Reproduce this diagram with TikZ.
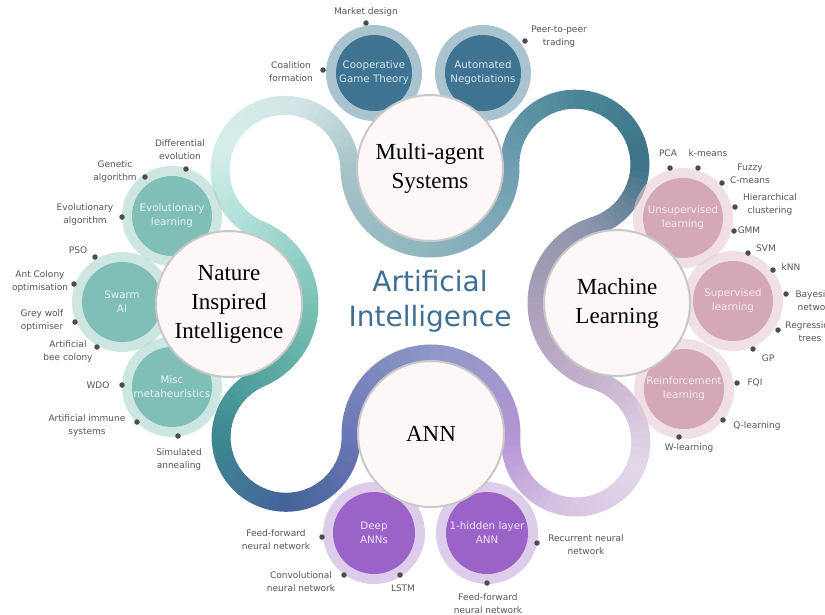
\documentclass[tikz,border=0pt]{standalone}
\usepackage{fontspec}
\setmainfont{DejaVu Sans}
\newfontfamily\titleserif{Liberation Serif}
\usetikzlibrary{positioning}
\definecolor{dotgrey}{RGB}{77,77,77}
\definecolor{lblgrey}{RGB}{85,85,85}
\definecolor{aiblue}{RGB}{63,111,149}
\definecolor{bigfill}{RGB}{253,248,247}
\definecolor{bigline}{RGB}{200,200,200}
% satellite colours
\definecolor{masin}{RGB}{62,116,145}
\definecolor{masring}{RGB}{113,157,175}
\definecolor{mastxt}{RGB}{213,229,238}
\definecolor{natin}{RGB}{127,191,183}
\definecolor{natring}{RGB}{172,213,205}
\definecolor{nattxt}{RGB}{230,244,241}
\definecolor{mlin}{RGB}{212,168,184}
\definecolor{mlring}{RGB}{230,202,212}
\definecolor{mltxt}{RGB}{246,232,238}
\definecolor{annin}{RGB}{155,98,200}
\definecolor{annring}{RGB}{198,172,222}
\definecolor{anntxt}{RGB}{240,230,248}
% colour stops along the band
\definecolor{bda}{HTML}{A6DCD2}
\definecolor{bdb}{HTML}{D5EEEA}
\definecolor{bdc}{HTML}{D3E5E6}
\definecolor{bdd}{HTML}{A6C3C9}
\definecolor{bde}{HTML}{8FB5BF}
\definecolor{bdf}{HTML}{6E9EB1}
\definecolor{bdg}{HTML}{4C8799}
\definecolor{bdh}{HTML}{3C7287}
\definecolor{bdi}{HTML}{8A93AA}
\definecolor{bdj}{HTML}{AB9FBB}
\definecolor{bdk}{HTML}{C6B1CD}
\definecolor{bdl}{HTML}{E4D8EA}
\definecolor{bdm}{HTML}{D6C0E2}
\definecolor{bdn}{HTML}{B595D5}
\definecolor{bdo}{HTML}{8D98C6}
\definecolor{bdp}{HTML}{6B78B5}
\definecolor{bdq}{HTML}{45639A}
\definecolor{bdr}{HTML}{3D8791}
\definecolor{bds}{HTML}{55A59F}
\definecolor{bdt}{HTML}{7BC1B5}
% arc of the band, faded from #5 to #6 in small pieces
\newcommand{\bandarc}[6]{%
  \foreach \k in {0,...,11}{%
    \pgfmathsetmacro\angA{#3+(#4-#3)*\k/12}%
    \pgfmathsetmacro\angB{#3+(#4-#3)*(\k+1.1)/12}%
    \pgfmathtruncatemacro\bandmix{100-100*(\k+0.5)/12}%
    \draw[band,color=#5!\bandmix!#6] (#1) ++(\angA:#2)
      arc[start angle=\angA,end angle=\angB,radius=#2];%
  }}

\begin{document}
\begin{tikzpicture}[x=1pt,y=-1pt,
  band/.style={line width=19pt},
  bigc/.style={circle,draw=bigline,line width=2pt,fill=bigfill,
    minimum size=146pt,inner sep=0pt,align=center,
    font=\titleserif\fontsize{23}{29}\selectfont},
  ring/.style={circle,minimum size=100pt,inner sep=0pt,fill opacity=0.6},
  sat/.style={circle,minimum size=80pt,inner sep=0pt,align=center,
    font=\fontsize{10.3}{14}\selectfont},
  bullet/.style={circle,fill=dotgrey,minimum size=5.5pt,inner sep=0pt},
  lbl/.style={align=center,inner sep=0pt,text=lblgrey,
    font=\fontsize{9}{13}\selectfont}]
\useasboundingbox (0,0) rectangle (825,614);

% centres: four topics and the four loops between them
\coordinate (masp) at (430,168);
\coordinate (mlp) at (617,303);
\coordinate (annp) at (431,434);
\coordinate (natp) at (229,304);
\coordinate (ltl) at (285,170.3);
\coordinate (ltr) at (574.9,164.2);
\coordinate (lbr) at (575.8,442);
\coordinate (lbl) at (286.1,437.3);

% ---- band ----
\bandarc{ltl}{65}{112.7}{200}{bda}{bdb}
\bandarc{ltl}{65}{200}{280}{bdb}{bdc}
\bandarc{ltl}{65}{280}{359.1}{bdc}{bdd}
\bandarc{masp}{80}{179.1}{90}{bdd}{bde}
\bandarc{masp}{80}{90}{-1.5}{bde}{bdf}
\bandarc{ltr}{65}{178.5}{270}{bdf}{bdg}
\bandarc{ltr}{65}{270}{360}{bdg}{bdh}
\bandarc{ltr}{65}{360}{433.1}{bdh}{bdi}
\bandarc{mlp}{80}{253.1}{180}{bdi}{bdj}
\bandarc{mlp}{80}{180}{106.5}{bdj}{bdk}
\bandarc{lbr}{65}{-73.5}{20}{bdk}{bdl}
\bandarc{lbr}{65}{20}{110}{bdl}{bdm}
\bandarc{lbr}{65}{110}{183.2}{bdm}{bdn}
\bandarc{annp}{80}{3.2}{-90}{bdn}{bdo}
\bandarc{annp}{80}{-90}{-181.3}{bdo}{bdp}
\bandarc{lbl}{65}{-1.3}{90}{bdp}{bdq}
\bandarc{lbl}{65}{90}{180}{bdq}{bdr}
\bandarc{lbl}{65}{180}{246.8}{bdr}{bds}
\bandarc{natp}{80}{66.8}{0}{bds}{bdt}
\bandarc{natp}{80}{0}{-67.3}{bdt}{bda}

% ---- satellite rings ----
\node[ring,fill=masring,minimum size=96pt] (cgtr) at (374,73) {};
\node[ring,fill=masring,minimum size=96pt] (negr) at (483,73) {};
\node[ring,fill=natring] (evor) at (172,216) {};
\node[ring,fill=natring] (swar) at (122,302) {};
\node[ring,fill=natring] (misr) at (172,387) {};
\node[ring,fill=mlring] (unsr) at (683,218) {};
\node[ring,fill=mlring] (supr) at (733,301) {};
\node[ring,fill=mlring] (reir) at (684,389) {};
\node[ring,fill=annring,minimum size=102pt] (deepr) at (374,533) {};
\node[ring,fill=annring,minimum size=102pt] (hidr) at (487,533) {};

% ---- satellites ----
\node[sat,fill=masin,text=mastxt,minimum size=76pt] (cgt) at (374,73)
  {Cooperative\\Game Theory};
\node[sat,fill=masin,text=mastxt,minimum size=76pt] (neg) at (483,73)
  {Automated\\Negotiations};
\node[sat,fill=natin,text=nattxt] (evo) at (172,216) {Evolutionary\\learning};
\node[sat,fill=natin,text=nattxt] (swarm) at (122,302) {Swarm\\AI};
\node[sat,fill=natin,text=nattxt] (misc) at (172,387) {Misc\\metaheuristics};
\node[sat,fill=mlin,text=mltxt] (unsup) at (683,218) {Unsupervised\\learning};
\node[sat,fill=mlin,text=mltxt] (sup) at (733,301) {Supervised\\learning};
\node[sat,fill=mlin,text=mltxt] (reinf) at (684,389) {Reinforcement\\learning};
\node[sat,fill=annin,text=anntxt,minimum size=82pt] (deep) at (374,533)
  {Deep\\ANNs};
\node[sat,fill=annin,text=anntxt,minimum size=82pt] (hid) at (487,533)
  {1-hidden layer\\ANN};

% ---- topics ----
\node[bigc] (mas) at (masp) {Multi-agent\\Systems};
\node[bigc] (ml) at (mlp) {Machine\\Learning};
\node[bigc] (ann) at (annp) {ANN};
\node[bigc] (nat) at (natp) {Nature\\Inspired\\Intelligence};
\node[align=center,text=aiblue,font=\fontsize{28}{35}\selectfont] (ai)
  at (430,301) {Artificial\\Intelligence};

% ---- MAS leaves ----
\node[bullet] (d1) at (366,23) {};
\node[lbl] (t1) at (366,12) {Market design};
\node[bullet] (d2) at (323,70) {};
\node[lbl] (t2) at (291,71.5) {Coalition\\formation};
\node[bullet] (d3) at (525,41) {};
\node[lbl] (t3) at (559,36.5) {Peer-to-peer\\trading};

% ---- nature inspired leaves ----
\node[bullet] (d4) at (186,169) {};
\node[lbl] (t4) at (180,149.5) {Differential\\evolution};
\node[bullet] (d5) at (145,177) {};
\node[lbl] (t5) at (115,171.5) {Genetic\\algorithm};
\node[bullet] (d6) at (122,217) {};
\node[lbl] (t6) at (85,214.5) {Evolutionary\\algorithm};
\node[bullet] (d7) at (95,257) {};
\node[lbl] (t7) at (78,250) {PSO};
\node[bullet] (d8) at (74,284) {};
\node[lbl] (t8) at (40,281.5) {Ant Colony\\optimisation};
\node[bullet] (d9) at (75,322) {};
\node[lbl] (t9) at (42,320.5) {Grey wolf\\optimiser};
\node[bullet] (d10) at (97,347) {};
\node[lbl] (t10) at (68,351.5) {Artificial\\bee colony};
\node[bullet] (d11) at (122,385) {};
\node[lbl] (t11) at (98,385) {WDO};
\node[bullet] (d12) at (137,422) {};
\node[lbl] (t12) at (87,425.5) {Artificial immune\\systems};
\node[bullet] (d13) at (178,436) {};
\node[lbl] (t13) at (179,459.5) {Simulated\\annealing};

% ---- ML leaves ----
\node[bullet] (d14) at (670,168) {};
\node[lbl] (t14) at (668,153) {PCA};
\node[bullet] (d15) at (698,168) {};
\node[lbl] (t15) at (708,153) {k-means};
\node[bullet] (d16) at (722,183) {};
\node[lbl] (t16) at (750,173.5) {Fuzzy\\C-means};
\node[bullet] (d17) at (735,207) {};
\node[lbl] (t17) at (770,204.5) {Hierarchical\\clustering};
\node[bullet] (d18) at (734,231) {};
\node[lbl] (t18) at (749,230) {GMM};
\node[bullet] (d19) at (748,253) {};
\node[lbl] (t19) at (766,248) {SVM};
\node[bullet] (d20) at (773,270) {};
\node[lbl] (t20) at (791,267) {kNN};
\node[bullet] (d21) at (786,294) {};
\node[lbl] (t21) at (816,300.5) {Bayesian\\network};
\node[bullet] (d22) at (778,330) {};
\node[lbl] (t22) at (810,332) {Regression\\trees};
\node[bullet] (d23) at (753,349) {};
\node[lbl] (t23) at (768,358) {GP};
\node[bullet] (d24) at (737,383) {};
\node[lbl] (t24) at (755,383) {FQI};
\node[bullet] (d25) at (723,420) {};
\node[lbl] (t25) at (757,426) {Q-learning};
\node[bullet] (d26) at (679,437) {};
\node[lbl] (t26) at (689,448) {W-learning};

% ---- ANN leaves ----
\node[bullet] (d27) at (322,537) {};
\node[lbl] (t27) at (276,539.5) {Feed-forward\\neural network};
\node[bullet] (d28) at (344,575) {};
\node[lbl] (t28) at (301,581.5) {Convolutional\\neural network};
\node[bullet] (d29) at (400,575) {};
\node[lbl] (t29) at (403,588) {LSTM};
\node[bullet] (d30) at (537,543) {};
\node[lbl] (t30) at (586,544.5) {Recurrent neural\\network};
\node[bullet] (d31) at (487,583) {};
\node[lbl] (t31) at (488,603.5) {Feed-forward\\neural network};
\end{tikzpicture}
\end{document}
